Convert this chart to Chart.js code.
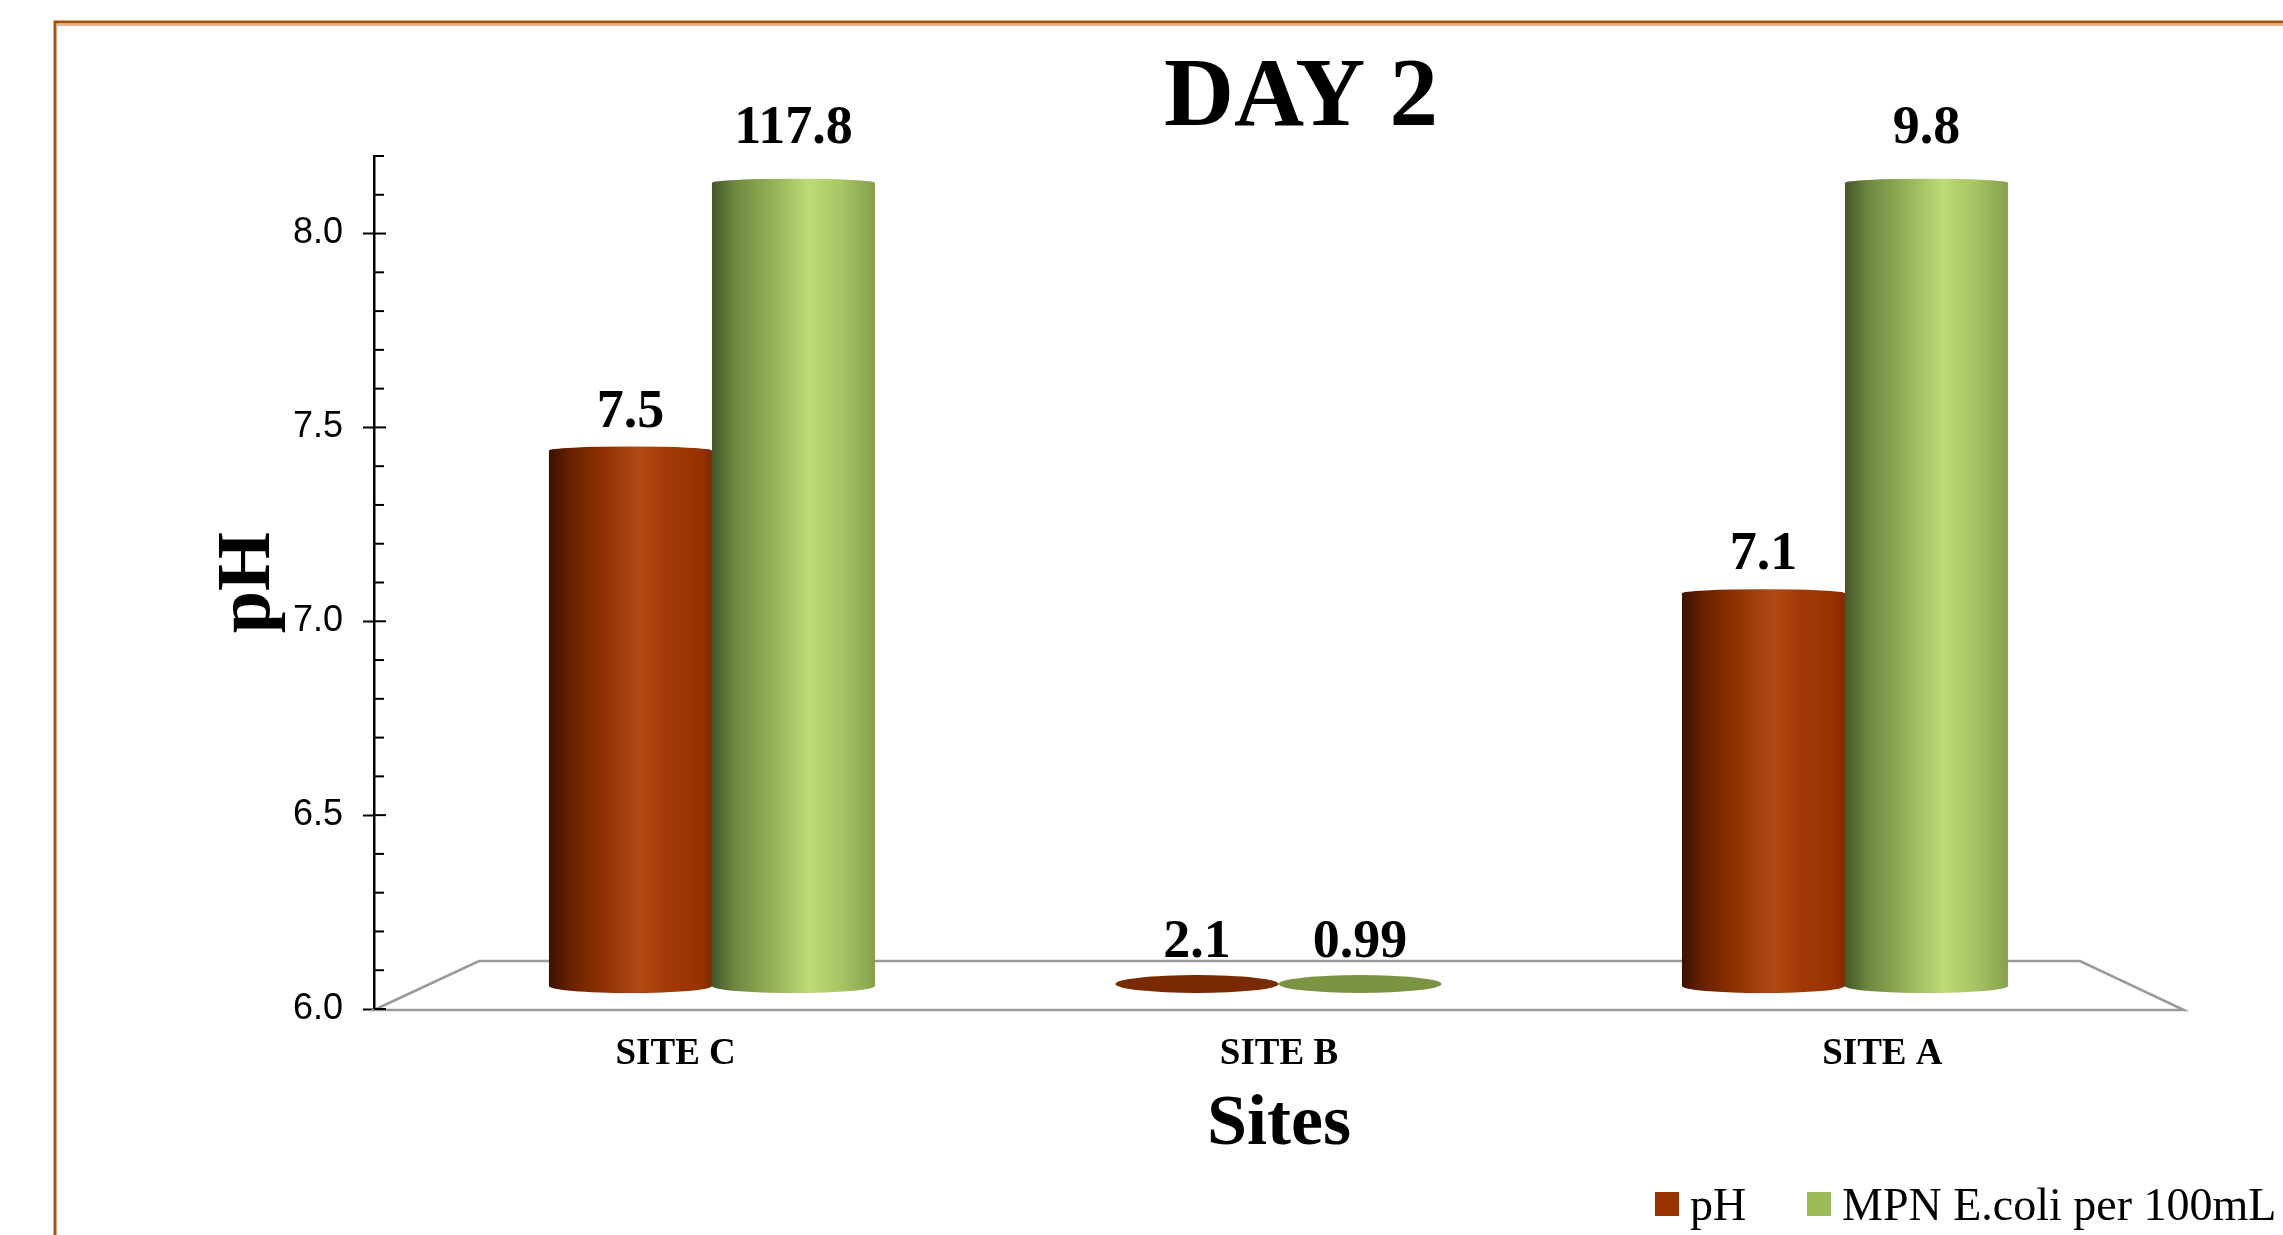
<!DOCTYPE html>
<html>
<head>
<meta charset="utf-8">
<script src="https://cdn.jsdelivr.net/npm/chart.js@4.4.1/dist/chart.umd.min.js"></script>
<style>
  html, body { margin: 0; padding: 0; background: #fff; }
  #wrap { width: 2283px; height: 1235px; position: relative; }
</style>
</head>
<body>
<div id="wrap"><canvas id="day2Chart"></canvas></div>
<script>
// values
const sites = ['SITE C', 'SITE B', 'SITE A'];
const seriesNames = ['pH', 'MPN E.coli per 100mL'];
const phValues = [7.5, 2.1, 7.1];
const ecoliValues = [117.8, 0.99, 9.8];

const chartTitle = 'DAY 2';
const xTitle = 'Sites';
const yTitle = 'pH';

// front (visible) value axis
const yMin = 6.0, yMax = 8.2, yStep = 0.5, yMinorStep = 0.1;
// cylinders stand further back in the 3d box -> own hidden scales
const barYMin = 5.9356, barYMax = 8.325, barCeiling = 8.25;
const barXMin = -0.5966, barXMax = 2.5985;

const SERIF = '"Liberation Serif", "Times New Roman", serif';
const SANS = '"Liberation Sans", Arial, sans-serif';

const shades = [
  { solid: '#993300', disc: '#7a2a00',
    stops: [[0, '#3a1200'], [0.14, '#6a2200'], [0.32, '#8e3000'], [0.56, '#b24a16'], [0.72, '#a23a06'], [0.94, '#963200'], [1, '#7c2a00']] },
  { solid: '#9bbb59', disc: '#7a9444',
    stops: [[0, '#45552a'], [0.14, '#6c883f'], [0.35, '#90ae56'], [0.6, '#bddc76'], [0.8, '#a6c462'], [1, '#86a04c']] }
];

function ceilingPx(chart) {
  return chart.scales.yb.getPixelForValue(barCeiling);
}

const cylinders = {
  id: 'cylinders',
  beforeDraw(chart) {
    // brown frame, top and left
    const { ctx } = chart;
    ctx.save();
    ctx.strokeStyle = '#ebb38a';
    ctx.lineWidth = 2;
    ctx.beginPath(); ctx.moveTo(57, 25); ctx.lineTo(chart.width, 25); ctx.stroke();
    ctx.strokeStyle = '#a5520f';
    ctx.lineWidth = 3;
    ctx.beginPath(); ctx.moveTo(55, chart.height); ctx.lineTo(55, 22); ctx.lineTo(chart.width, 22); ctx.stroke();
    ctx.restore();
  },
  beforeDatasetsDraw(chart) {
    // floor of the 3d box
    const { ctx, chartArea: a } = chart;
    ctx.save();
    ctx.strokeStyle = '#9a9a9a';
    ctx.lineWidth = 2.5;
    ctx.beginPath();
    ctx.moveTo(a.left, a.bottom + 1);
    ctx.lineTo(a.left + 105, a.bottom - 48);
    ctx.lineTo(a.right - 104, a.bottom - 48);
    ctx.lineTo(a.right, a.bottom + 1);
    ctx.closePath();
    ctx.stroke();
    ctx.restore();
  },
  beforeDatasetDraw(chart, args) {
    const { ctx } = chart;
    const ds = chart.data.datasets[args.index];
    const shade = shades[args.index];
    const ceil = ceilingPx(chart);
    ctx.save();
    args.meta.data.forEach((el, i) => {
      const v = ds.data[i].y;
      const half = el.width / 2;
      if (v < ds.base) {
        ctx.fillStyle = shade.disc;
        ctx.beginPath();
        ctx.ellipse(el.x, el.base - 2, half, 9, 0, 0, Math.PI * 2);
        ctx.fill();
        return;
      }
      const top = Math.max(el.y, ceil);
      const bottom = el.base;
      const g = ctx.createLinearGradient(el.x - half, 0, el.x + half, 0);
      shade.stops.forEach(s => g.addColorStop(s[0], s[1]));
      ctx.fillStyle = g;
      ctx.beginPath();
      ctx.moveTo(el.x - half, bottom);
      ctx.lineTo(el.x - half, top);
      ctx.ellipse(el.x, top, half, 4, 0, Math.PI, Math.PI * 2);
      ctx.lineTo(el.x + half, bottom);
      ctx.ellipse(el.x, bottom, half, 7, 0, 0, Math.PI);
      ctx.closePath();
      ctx.fill();
    });
    ctx.restore();
    return false;
  },
  afterDatasetsDraw(chart) {
    // value labels
    const { ctx } = chart;
    const ceil = ceilingPx(chart);
    ctx.save();
    ctx.fillStyle = '#000';
    ctx.font = 'bold 54px ' + SERIF;
    ctx.textAlign = 'center';
    ctx.textBaseline = 'alphabetic';
    chart.data.datasets.forEach((ds, di) => {
      chart.getDatasetMeta(di).data.forEach((el, i) => {
        const v = ds.data[i].y;
        let y;
        if (v < ds.base) y = el.base - 29;
        else if (el.y < ceil) y = ceil - 40;   // cut-off cylinders
        else y = el.y - 24;
        ctx.fillText(String(v), el.x, y);
      });
    });
    ctx.restore();
  },
  afterDraw(chart) {
    const { ctx, chartArea: a } = chart;
    const yScale = chart.scales.y;
    ctx.save();
    // inner part of the value-axis ticks (major cross the axis, minor sit inside)
    ctx.strokeStyle = '#000';
    ctx.lineWidth = 2;
    const n = Math.round((yMax - yMin) / yMinorStep);
    for (let k = 0; k <= n; k++) {
      const py = yScale.getPixelForValue(yMin + k * yMinorStep);
      const len = k % 5 === 0 ? 12 : 10;
      ctx.beginPath();
      ctx.moveTo(a.left, py);
      ctx.lineTo(a.left + len, py);
      ctx.stroke();
    }
    // title
    ctx.fillStyle = '#000';
    ctx.font = 'bold 97px ' + SERIF;
    ctx.textAlign = 'center';
    ctx.textBaseline = 'alphabetic';
    ctx.fillText(chartTitle, 1301, 125);
    // legend, runs off the right edge like the original
    ctx.font = '46px ' + SERIF;
    ctx.textAlign = 'left';
    const legendX = [1655, 1807];
    seriesNames.forEach((name, i) => {
      ctx.fillStyle = shades[i].solid;
      ctx.fillRect(legendX[i], 1192, 24, 24);
      ctx.fillStyle = '#000';
      ctx.fillText(name, legendX[i] + 35, 1220);
    });
    ctx.restore();
  }
};

Chart.defaults.font.family = SERIF;
Chart.defaults.color = '#000';

new Chart(document.getElementById('day2Chart'), {
  type: 'bar',
  data: {
    labels: sites,
    datasets: [
      {
        label: seriesNames[0],
        data: sites.map((s, i) => ({ x: i, y: phValues[i] })),
        backgroundColor: shades[0].solid,
        xAxisID: 'xb', yAxisID: 'yb',
        base: yMin,
        categoryPercentage: 0.5755, barPercentage: 1
      },
      {
        label: seriesNames[1],
        data: sites.map((s, i) => ({ x: i, y: ecoliValues[i] })),
        backgroundColor: shades[1].solid,
        xAxisID: 'xb', yAxisID: 'yb',
        base: yMin,
        categoryPercentage: 0.5755, barPercentage: 1
      }
    ]
  },
  options: {
    responsive: true,
    maintainAspectRatio: false,
    animation: false,
    layout: { padding: { left: 211, right: 99, top: 156, bottom: 66 } },
    plugins: {
      legend: { display: false },
      title: { display: false },
      tooltip: { enabled: false }
    },
    scales: {
      x: {
        type: 'category',
        position: 'bottom',
        offset: true,
        grid: { display: false, drawTicks: false },
        border: { display: false },
        ticks: { color: '#000', padding: 23, font: { family: SERIF, size: 37, weight: 'bold' } },
        title: {
          display: true, text: xTitle, color: '#000',
          font: { family: SERIF, size: 72, weight: 'bold', lineHeight: 1 },
          padding: { top: 0, bottom: 8 }
        },
        afterFit(scale) { scale.height = 160; }
      },
      y: {
        type: 'linear',
        position: 'left',
        min: yMin,
        max: yMax,
        ticks: {
          stepSize: yStep, includeBounds: false, color: '#000', padding: 20,
          font: { family: SANS, size: 36 },
          callback: v => v.toFixed(1)
        },
        grid: { drawOnChartArea: false, tickLength: 11, tickColor: '#000', tickWidth: 2 },
        border: { color: '#000', width: 2.5 },
        title: {
          display: true, text: yTitle, color: '#000',
          font: { family: SERIF, size: 76, weight: 'bold', lineHeight: 1 },
          padding: { top: 0, bottom: 0 }
        },
        afterFit(scale) { scale.width = 163; }
      },
      // ticks one step apart so the bar width comes from the site spacing
      xb: { type: 'linear', display: false, min: barXMin, max: barXMax, offset: false,
            ticks: { stepSize: 1, includeBounds: false } },
      yb: { type: 'linear', display: false, min: barYMin, max: barYMax, beginAtZero: false }
    }
  },
  plugins: [cylinders]
});
</script>
</body>
</html>
